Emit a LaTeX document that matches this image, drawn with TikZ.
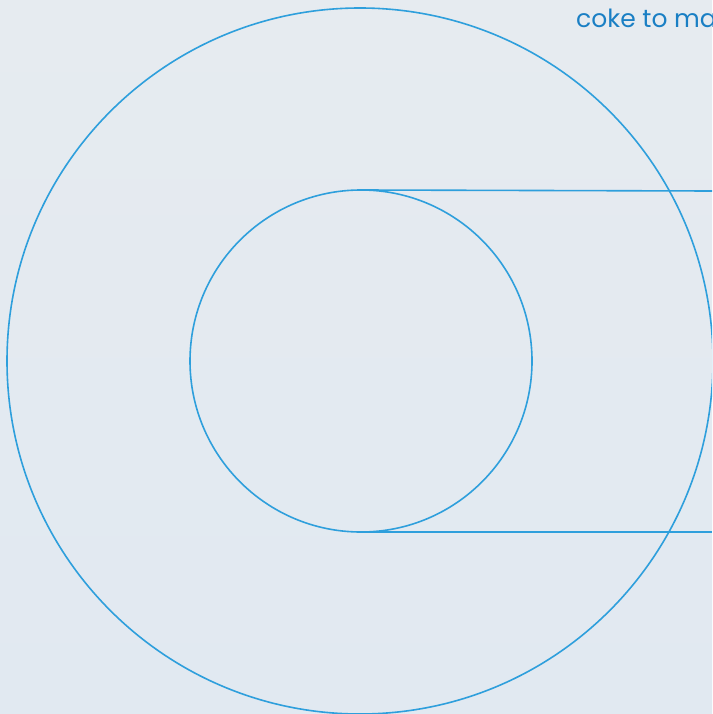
\documentclass[tikz,border=0pt]{standalone}
\usepackage{fontspec}
\setmainfont{Poppins}
\usetikzlibrary{positioning}
\definecolor{ringblue}{HTML}{2E9FDC}
\definecolor{textblue}{HTML}{1A7FC4}
\definecolor{bgtop}{HTML}{E6EBF0}
\definecolor{bgbottom}{HTML}{E1E9F1}
\tikzset{
  ring/.style={circle, draw=ringblue, line width=1.6pt, inner sep=0pt, outer sep=0pt},
  guide/.style={draw=ringblue, line width=1.6pt},
  caption/.style={text=textblue, font=\fontsize{25}{29}\selectfont, inner sep=0pt, anchor=base west}
}
\begin{document}
\begin{tikzpicture}[x=1pt, y=-1pt]
  \useasboundingbox (0,0) rectangle (712,714);
  \clip (0,0) rectangle (712,714);
  \shade[top color=bgtop, bottom color=bgbottom] (0,0) rectangle (712,714);

  \node (outer) [ring, minimum size=706pt] at (360,361) {};
  \node (inner) [ring, minimum size=342pt] at (361,361) {};
  \coordinate (topend) at (712,191);
  \coordinate (botend) at (712,532);

  \draw [guide] (inner.north) -- (topend);
  \draw [guide] (inner.south) -- (botend);

  % caption runs past the right edge, as in the source
  \node (label) [caption] at (576,28) {coke to make};
\end{tikzpicture}
\end{document}
